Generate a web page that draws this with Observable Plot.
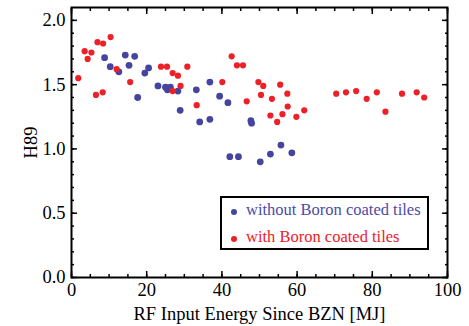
<!DOCTYPE html>
<html>
<head>
<meta charset="utf-8">
<script src="https://cdn.jsdelivr.net/npm/d3@7"></script>
<script src="https://cdn.jsdelivr.net/npm/@observablehq/plot@0.6"></script>
<style>
  html, body { margin: 0; padding: 0; background: #fff; }
  #wrap { position: relative; width: 469px; height: 326px; font-family: "Liberation Serif", "DejaVu Serif", "Noto Serif", Times, serif; }
  #wrap svg, #wrap svg text { font-family: "Liberation Serif", "DejaVu Serif", "Noto Serif", Times, serif !important; }
  #legend { position: absolute; left: 220px; top: 196px; width: 205px; height: 50px; border: 2px solid #000; background: #fff; font-size: 16.5px; }
  #legend .row { position: absolute; left: 0; white-space: nowrap; }
  #legend .dot { position: absolute; width: 6px; height: 6px; border-radius: 50%; }
</style>
</head>
<body>
<div id="wrap"></div>
<script>
// --- data ---
const seriesNames = ["without Boron coated tiles", "with Boron coated tiles"];
const seriesColors = ["#45459f", "#ee2027"];

const withoutX = [8.8, 10.3, 12.6, 14.3, 15.3, 16.8, 17.6, 19.5, 20.5, 23.0, 25.0, 25.5, 26.3, 28.3, 28.9, 33.2, 34.1, 36.8, 36.8, 39.4, 41.6, 42.1, 44.4, 47.7, 47.9, 50.2, 52.9, 55.7, 58.6];
const withoutY = [1.71, 1.64, 1.60, 1.73, 1.65, 1.72, 1.40, 1.59, 1.63, 1.49, 1.48, 1.46, 1.48, 1.45, 1.30, 1.46, 1.21, 1.52, 1.23, 1.41, 1.36, 0.94, 0.94, 1.22, 1.20, 0.90, 0.96, 1.03, 0.97];

const withX = [1.8, 3.5, 4.3, 5.3, 6.5, 6.9, 8.3, 8.4, 10.4, 12.0, 15.6, 23.8, 25.4, 26.9, 28.3, 26.9, 29.0, 30.8, 33.3, 40.1, 42.6, 44.0, 45.6, 46.6, 49.7, 50.4, 51.0, 53.3, 52.9, 54.7, 55.5, 56.1, 57.4, 57.5, 59.8, 61.9, 70.4, 73.0, 75.7, 78.5, 81.2, 83.5, 87.9, 91.8, 93.8];
const withY = [1.55, 1.76, 1.70, 1.75, 1.42, 1.83, 1.44, 1.82, 1.87, 1.62, 1.52, 1.64, 1.64, 1.59, 1.57, 1.45, 1.49, 1.64, 1.34, 1.52, 1.72, 1.65, 1.65, 1.37, 1.52, 1.42, 1.49, 1.39, 1.26, 1.21, 1.50, 1.27, 1.43, 1.33, 1.25, 1.30, 1.43, 1.44, 1.45, 1.39, 1.44, 1.29, 1.43, 1.44, 1.40];

const xMajorTicks = [0, 20, 40, 60, 80, 100];
const xMinorTicks = d3.range(0, 101, 5);
const yMajorTicks = [0.0, 0.5, 1.0, 1.5, 2.0];
const yMinorTicks = d3.range(0, 21).map(i => i / 10);
const xLabel = "RF Input Energy Since BZN [MJ]";
const yLabel = "H89";

const without = withoutX.map((x, i) => ({x, y: withoutY[i]}));
const withB = withX.map((x, i) => ({x, y: withY[i]}));

const plot = Plot.plot({
  width: 469,
  height: 326,
  marginLeft: 71,
  marginRight: 22,
  marginTop: 7,
  marginBottom: 49,
  style: {fontSize: "18px", background: "#fff", color: "#000"},
  x: {domain: [0, 100]},
  y: {domain: [0, 2.1]},
  marks: [
    Plot.axisX({ticks: xMajorTicks, tickSize: 0, tickPadding: 5, tickFormat: d3.format("d"), label: xLabel, labelAnchor: "center", labelOffset: 42, labelArrow: false, fontSize: 18.5}),
    Plot.axisY({ticks: yMajorTicks, tickSize: 0, tickPadding: 6, tickFormat: d3.format(".1f"), label: yLabel, labelAnchor: "center", labelOffset: 48, labelArrow: false, fontSize: 18.5}),
    Plot.axisX({ticks: xMajorTicks, tickSize: -6, fill: "none", strokeWidth: 1.5}),
    Plot.axisX({ticks: xMinorTicks, tickSize: -3, fill: "none", strokeWidth: 1.5}),
    Plot.axisX({anchor: "top", ticks: xMajorTicks, tickSize: -6, fill: "none", strokeWidth: 1.5}),
    Plot.axisX({anchor: "top", ticks: xMinorTicks, tickSize: -3, fill: "none", strokeWidth: 1.5}),
    Plot.axisY({ticks: yMajorTicks, tickSize: -6, fill: "none", strokeWidth: 1.5}),
    Plot.axisY({ticks: yMinorTicks, tickSize: -3, fill: "none", strokeWidth: 1.5}),
    Plot.axisY({anchor: "right", ticks: yMajorTicks, tickSize: -6, fill: "none", strokeWidth: 1.5}),
    Plot.axisY({anchor: "right", ticks: yMinorTicks, tickSize: -3, fill: "none", strokeWidth: 1.5}),
    Plot.dot(without, {x: "x", y: "y", r: 3.4, fill: seriesColors[0]}),
    Plot.dot(withB, {x: "x", y: "y", r: 3.1, fill: seriesColors[1]}),
    Plot.frame({stroke: "#000", strokeWidth: 2})
  ]
});

const wrap = document.getElementById("wrap");
wrap.appendChild(plot);

const legend = document.createElement("div");
legend.id = "legend";
seriesNames.forEach((name, i) => {
  const row = document.createElement("div");
  row.className = "row";
  row.style.top = (i === 0 ? 4 : 31) + "px";
  const dot = document.createElement("span");
  dot.className = "dot";
  dot.style.background = seriesColors[i];
  dot.style.left = "9px";
  dot.style.top = "7px";
  const txt = document.createElement("span");
  txt.textContent = name;
  txt.style.position = "absolute";
  txt.style.left = "24px";
  txt.style.top = "-2px";
  txt.style.color = i === 0 ? "#4b4ba6" : "#ee2027";
  row.appendChild(dot);
  row.appendChild(txt);
  legend.appendChild(row);
});
wrap.appendChild(legend);
</script>
</body>
</html>
